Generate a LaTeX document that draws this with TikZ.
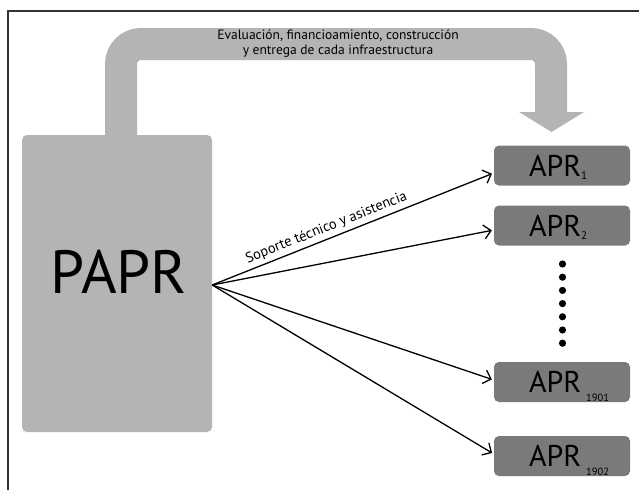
\documentclass[tikz,border=0pt]{standalone}
\usepackage{fontspec}
\setmainfont{PT Sans}
\usetikzlibrary{arrows.meta}
\definecolor{boxlight}{HTML}{B4B4B4}
\definecolor{boxdark}{HTML}{7A7A7A}
\definecolor{framecol}{HTML}{333333}
\begin{document}
\begin{tikzpicture}[x=1pt,y=-1pt,
  paprbox/.style={fill=boxlight, rounded corners=5pt, minimum width=190pt,
    minimum height=297pt, inner sep=0pt},
  bigtext/.style={inner sep=0pt, font=\fontsize{61}{61}\selectfont},
  aprbox/.style={fill=boxdark, rounded corners=5pt, minimum width=136pt,
    minimum height=40pt, inner sep=0pt, font=\fontsize{30}{30}\selectfont},
  conn/.style={line width=1.3pt, -{Straight Barb[length=7pt,width=14pt,line width=1.3pt]}, shorten >=2pt},
  band/.style={boxlight, line width=32pt, rounded corners=20pt},
  subtext/.style={font=\fontsize{14.5}{16}\selectfont, inner sep=3.5pt}]
\useasboundingbox (0,0) rectangle (639,490);
\fill[white] (0,0) rectangle (639,490);

% open frame along the top and left edges
\draw[framecol, line width=1.4pt] (639,11) -- (8,11) -- (8,490);

% wide curved arrow from the programme to the systems
\draw[band] (121,140) -- (121,44) -- (551,44) -- (551,113);
\fill[boxlight] (519,112) -- (584,112) -- (551.5,132) -- cycle;
\node[align=center, font=\fontsize{13.5}{15}\selectfont] (eval) at (338,44)
  {Evaluación, financioamiento, construcción\\y entrega de cada infraestructura};

% main programme block
\node[paprbox] (papr) at (117,283.5) {};
\node[bigtext] (paprtext) at (119,293.5) {\smash{PAPR}};

% rural drinking-water systems
\node[aprbox] (a1) at (562,165.5)
  {\makebox[66pt][l]{APR\smash{\raisebox{-3pt}{\fontsize{11}{11}\selectfont 1}}}};
\node[aprbox] (a2) at (562,225.5)
  {\makebox[66pt][l]{APR\smash{\raisebox{-3pt}{\fontsize{11}{11}\selectfont 2}}}};
\node[aprbox] (a1901) at (562,382)
  {\makebox[66pt][l]{APR\,\smash{\raisebox{-9pt}{\fontsize{10.5}{11}\selectfont 1901}}}};
\node[aprbox] (a1902) at (562,456)
  {\makebox[66pt][l]{APR\,\smash{\raisebox{-9pt}{\fontsize{10.5}{11}\selectfont 1902}}}};

% vertical ellipsis between the second and the 1901st system
\foreach \i in {0,...,6}
  \fill (562.5,264+13.2*\i) circle (3.6pt);

% support connectors
\coordinate (hub) at ([yshift=-1.5pt]papr.east);
\draw[conn] (hub) -- node[pos=0.42, above, sloped, subtext] (sup) {Soporte técnico y asistencia} ([yshift=-7.5pt]a1.west);
\draw[conn] (hub) -- ([yshift=-4.5pt]a2.west);
\draw[conn] (hub) -- ([yshift=2pt]a1901.west);
\draw[conn] (hub) -- ([yshift=2pt]a1902.west);
\end{tikzpicture}
\end{document}
